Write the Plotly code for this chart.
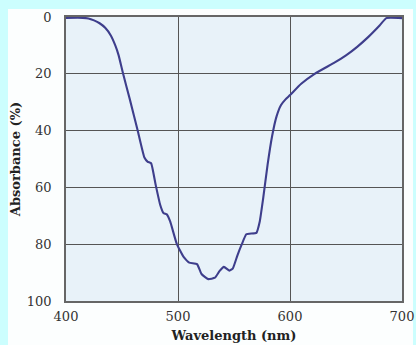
import plotly.graph_objects as go

wavelength = [400, 415, 420, 425, 430, 435, 440, 444, 447, 451, 457, 464, 470, 473, 476,
              480, 484, 487, 490, 493, 499, 505, 510, 517, 521, 527, 533, 537, 541, 546,
              549, 553, 557, 561, 570, 573, 576, 580, 584, 588, 592, 596, 600, 610, 622,
              640, 650, 660, 670, 680, 686, 700]
absorbance = [0.3, 0.3, 0.5, 1.2, 2.2, 3.8, 6.5, 10, 13.5, 20, 29, 40, 49.5, 51, 51.5,
              59, 66, 69, 69.5, 72, 80, 84.5, 86.5, 87, 90.5, 92.3, 91.8, 89.5, 88, 89.3,
              88.5, 84, 80, 76.5, 76, 72, 64, 52, 42, 35, 31, 29, 27.5, 23.5, 20,
              16, 13.5, 10.5, 7, 3, 0.4, 0.4]
x_ticks = [400, 500, 600, 700]
y_ticks = [0, 20, 40, 60, 80, 100]

W, H = 416, 345
L, R, T, B = 66, 14, 17, 44
pw, ph = W - L - R, H - T - B

def px(xp):
    return (xp - L) / pw

def py(yp):
    return (H - B - yp) / ph

fig = go.Figure()
fig.add_trace(go.Scatter(x=wavelength, y=absorbance, mode="lines",
                         line=dict(color="#3e3e8c", width=2.1, shape="spline", smoothing=0.4),
                         hoverinfo="skip", showlegend=False))

serif = "DejaVu Serif"
fig.update_layout(
    width=W, height=H,
    margin=dict(l=L, r=R, t=T, b=B, autoexpand=False),
    paper_bgcolor="#ccfefe",
    plot_bgcolor="rgba(0,0,0,0)",
    font=dict(family=serif, size=13, color="#333333"),
    shapes=[
        dict(type="rect", xref="paper", yref="paper", x0=px(8), x1=px(413), y0=py(346), y1=py(9),
             fillcolor="#fcfefe", line=dict(width=0), layer="below"),
        dict(type="rect", xref="paper", yref="paper", x0=0, x1=1, y0=0, y1=1,
             fillcolor="#e8f2f9", line=dict(width=0), layer="below"),
    ],
    xaxis=dict(range=[400, 700], tickvals=x_ticks, showgrid=True, gridcolor="#555555", gridwidth=1,
               showline=True, linecolor="#666666", linewidth=1.5, mirror=True, zeroline=False,
               ticks="", ticklabelstandoff=3, automargin=False,
               title=dict(text="<b>Wavelength (nm)</b>", font=dict(family=serif, size=13, color="#222222"),
                          standoff=8)),
    yaxis=dict(range=[100, 0], tickvals=y_ticks, showgrid=True, gridcolor="#555555", gridwidth=1,
               showline=True, linecolor="#666666", linewidth=1.5, mirror=True, zeroline=False,
               ticks="", ticklabelstandoff=10, automargin=False,
               title=dict(text="<b>Absorbance (%)</b>", font=dict(family=serif, size=13, color="#222222"),
                          standoff=3)),
)

fig.write_html("out.html", config={"displayModeBar": False},
               post_script="document.body.style.margin='0';document.body.style.background='#ccfefe';")
